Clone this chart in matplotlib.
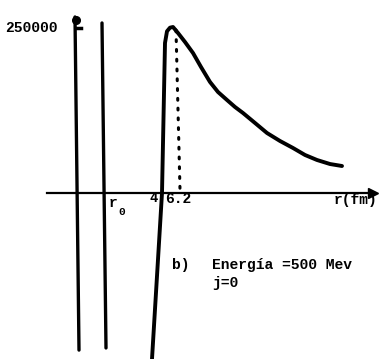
import matplotlib.pyplot as plt

# schematic units: x ~ r (not to scale), y ~ potential
peak_r = [7.4, 7.9, 8.4, 8.5, 8.7, 8.9, 9.2, 9.5, 10.0, 10.7, 11.5, 12.3, 13.2, 14.0,
          14.9, 15.7, 16.5, 17.7, 18.9, 20.2, 21.5, 22.7, 23.9, 25.2, 26.4]
peak_v = [-251500, -125800, 0, 75800, 227300, 245000, 250500, 251500, 242400, 228800,
          212100, 190900, 168200, 153000, 140900, 130300, 121200, 106100, 90900,
          78800, 68200, 57600, 50000, 43900, 40900]

# near-vertical branches close to the origin
wall1_r = [-0.3, 0.1]
wall1_v = [266700, -238000]
wall2_r = [2.4, 2.8]
wall2_v = [257600, -234800]

# dotted drop line at the maximum (r = 6.2)
drop_r = [9.8, 10.2]
drop_v = [247000, 4500]

xlim = (-7.8, 30.3)
ylim = (-251500, 292400)

fig = plt.figure(figsize=(3.81, 3.59), dpi=100)
ax = fig.add_axes([0, 0, 1, 1])
ax.set_xlim(*xlim)
ax.set_ylim(*ylim)
ax.axis('off')

ink = '#000000'

# axes drawn by hand
ax.plot([-3.1, 29.4], [0, 0], color=ink, lw=1.6, zorder=2)
ax.plot([29.5], [0], marker='>', ms=7, color=ink, zorder=3)
ax.plot([-0.2], [262000], marker='o', ms=5.5, color=ink, zorder=3)
ax.plot([-0.25, 0.25], [250000, 250000], color=ink, lw=2.5, zorder=3)

# curves
ax.plot(wall1_r, wall1_v, color=ink, lw=2.4, solid_capstyle='round', zorder=4)
ax.plot(wall2_r, wall2_v, color=ink, lw=2.4, solid_capstyle='round', zorder=4)
ax.plot(peak_r, peak_v, color=ink, lw=2.8, solid_capstyle='round',
        solid_joinstyle='round', zorder=4)
ax.plot(drop_r, drop_v, color=ink, lw=2.2, linestyle=(0, (0.6, 2.6)),
        dash_capstyle='round', zorder=4)

# labels
font = dict(family='Liberation Mono', weight='bold', color=ink)
ax.text(-7.3, 250000, '250000', ha='left', va='center', fontsize=10.5, **font)
ax.text(3.1, -15000, 'r', ha='left', va='center', fontsize=10.5, **font)
ax.text(4.0, -29000, '0', ha='left', va='center', fontsize=8, **font)
ax.text(7.6, -7000, '4', ha='center', va='center', fontsize=10, **font)
ax.text(8.7, -9500, '6.2', ha='left', va='center', fontsize=10.5, **font)
ax.text(29.9, -11000, 'r(fm)', ha='right', va='center', fontsize=10.5, **font)
ax.text(9.4, -109000, 'b)', ha='left', va='center', fontsize=10.5, **font)
ax.text(13.4, -109000, 'Energía =500 Mev', ha='left', va='center', fontsize=10.5, **font)
ax.text(13.4, -136500, 'j=0', ha='left', va='center', fontsize=10.5, **font)

fig.savefig('out.png', dpi=100, facecolor='white')
